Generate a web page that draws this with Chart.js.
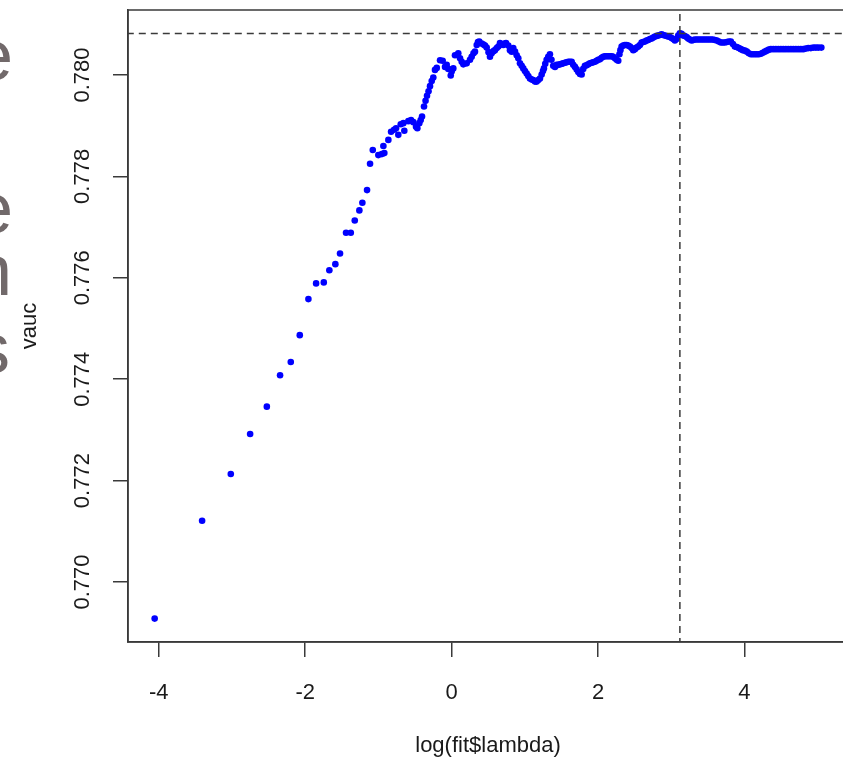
<!DOCTYPE html>
<html>
<head>
<meta charset="utf-8">
<script src="https://cdn.jsdelivr.net/npm/chart.js@4.4.0/dist/chart.umd.min.js"></script>
<style>
  html, body { margin: 0; padding: 0; background: #fff; overflow: hidden; width: 843px; height: 757px; }
  #wrap { position: absolute; left: 0; top: 0; width: 870px; height: 757px; }
  .side { position: absolute; font-family: "Liberation Sans", Arial, sans-serif; font-size: 72px; line-height: 72px; color: #71696a; }
</style>
</head>
<body>
<div id="wrap"><canvas id="aucPlot" width="870" height="757"></canvas></div>
<div class="side" style="left:-27px; top:19px">e</div>
<div class="side" style="left:-27px; top:172px">e</div>
<div class="side" style="left:-28px; top:234px">n</div>
<div class="side" style="left:-26px; top:312px">s</div>
<script>
// log(lambda) and validation AUC
const logLambda = [
  -4.056, -3.408, -3.016, -2.752, -2.524, -2.343, -2.197, -2.074, -1.956, -1.851,
  -1.746, -1.670, -1.588, -1.524, -1.442, -1.377, -1.323, -1.260, -1.219, -1.155,
  -1.114, -1.077, -1.001, -0.954, -0.932, -0.919, -0.864, -0.827, -0.786, -0.759,
  -0.728, -0.695, -0.659, -0.646, -0.591, -0.554, -0.523, -0.486, -0.468, -0.441,
  -0.422, -0.404, -0.377, -0.356, -0.336, -0.315, -0.295, -0.272, -0.250, -0.227,
  -0.203, -0.158, -0.122, -0.090, -0.067, -0.045, -0.012, 0.001, 0.023, 0.046,
  0.091, 0.115, 0.138, 0.160, 0.206, 0.251, 0.274, 0.299, 0.319, 0.343,
  0.360, 0.378, 0.411, 0.435, 0.456, 0.479, 0.504, 0.524, 0.547, 0.572,
  0.592, 0.616, 0.638, 0.661, 0.684, 0.706, 0.725, 0.743, 0.774, 0.797,
  0.820, 0.842, 0.866, 0.889, 0.911, 0.934, 0.957, 0.979, 1.002, 1.025,
  1.047, 1.070, 1.094, 1.115, 1.139, 1.162, 1.184, 1.207, 1.230, 1.248,
  1.261, 1.279, 1.298, 1.320, 1.343, 1.364, 1.388, 1.412, 1.435, 1.457,
  1.480, 1.503, 1.525, 1.548, 1.571, 1.593, 1.616, 1.640, 1.661, 1.685,
  1.708, 1.730, 1.753, 1.776, 1.798, 1.821, 1.844, 1.866, 1.889, 1.913,
  1.934, 1.958, 1.981, 2.003, 2.026, 2.049, 2.071, 2.094, 2.117, 2.139,
  2.162, 2.186, 2.207, 2.231, 2.254, 2.276, 2.292, 2.306, 2.322, 2.344,
  2.367, 2.390, 2.412, 2.436, 2.459, 2.481, 2.504, 2.527, 2.549, 2.572,
  2.595, 2.617, 2.640, 2.663, 2.685, 2.709, 2.732, 2.754, 2.777, 2.800,
  2.822, 2.845, 2.868, 2.890, 2.913, 2.937, 2.958, 2.982, 3.005, 3.027,
  3.050, 3.073, 3.095, 3.118, 3.141, 3.163, 3.186, 3.210, 3.231, 3.255,
  3.278, 3.300, 3.323, 3.350, 3.377, 3.405, 3.432, 3.459, 3.487, 3.514,
  3.541, 3.568, 3.596, 3.623, 3.650, 3.678, 3.705, 3.732, 3.760, 3.787,
  3.814, 3.842, 3.869, 3.896, 3.924, 3.951, 3.978, 4.006, 4.033, 4.060,
  4.088, 4.115, 4.142, 4.169, 4.197, 4.224, 4.251, 4.279, 4.306, 4.333,
  4.361, 4.395, 4.429, 4.463, 4.497, 4.531, 4.565, 4.599, 4.634, 4.668,
  4.702, 4.736, 4.770, 4.804, 4.838, 4.872, 4.906, 4.941, 4.975, 5.009,
  5.050
];
const vauc = [
  0.76928, 0.77121, 0.77213, 0.77292, 0.77346, 0.77408, 0.77434, 0.77487, 0.77558, 0.77589,
  0.77591, 0.77615, 0.77627, 0.77648, 0.77689, 0.77689, 0.77713, 0.77733, 0.77748, 0.77773,
  0.77825, 0.77852, 0.77842, 0.77844, 0.77860, 0.77846, 0.77872, 0.77888, 0.77892, 0.77895,
  0.77882, 0.77903, 0.77905, 0.77890, 0.77909, 0.77911, 0.77907, 0.77898, 0.77895, 0.77905,
  0.77911, 0.77918, 0.77938, 0.77949, 0.77959, 0.77968, 0.77978, 0.77988, 0.77995, 0.78010,
  0.78014, 0.78029, 0.78028, 0.78016, 0.78020, 0.78012, 0.77999, 0.78007, 0.78013, 0.78039,
  0.78043, 0.78033, 0.78026, 0.78021, 0.78023, 0.78030, 0.78036, 0.78043, 0.78046, 0.78059,
  0.78065, 0.78066, 0.78062, 0.78060, 0.78058, 0.78054, 0.78045, 0.78036, 0.78043, 0.78047,
  0.78049, 0.78053, 0.78056, 0.78063, 0.78060, 0.78059, 0.78062, 0.78063, 0.78058, 0.78049,
  0.78046, 0.78053, 0.78046, 0.78039, 0.78033, 0.78023, 0.78018, 0.78013, 0.78008, 0.78003,
  0.77998, 0.77993, 0.77991, 0.77990, 0.77987, 0.77987, 0.77990, 0.77993, 0.78001, 0.78008,
  0.78013, 0.78022, 0.78030, 0.78036, 0.78041, 0.78030, 0.78018, 0.78016, 0.78020, 0.78020,
  0.78021, 0.78022, 0.78023, 0.78024, 0.78025, 0.78026, 0.78026, 0.78026, 0.78020, 0.78016,
  0.78011, 0.78006, 0.78002, 0.78001, 0.78012, 0.78018, 0.78019, 0.78021, 0.78023, 0.78024,
  0.78025, 0.78026, 0.78028, 0.78030, 0.78031, 0.78034, 0.78036, 0.78037, 0.78037, 0.78037,
  0.78037, 0.78037, 0.78036, 0.78033, 0.78030, 0.78028, 0.78041, 0.78049, 0.78056, 0.78058,
  0.78059, 0.78059, 0.78058, 0.78056, 0.78053, 0.78049, 0.78051, 0.78054, 0.78056, 0.78059,
  0.78064, 0.78065, 0.78066, 0.78068, 0.78069, 0.78071, 0.78072, 0.78074, 0.78076, 0.78077,
  0.78078, 0.78079, 0.78080, 0.78079, 0.78078, 0.78077, 0.78076, 0.78075, 0.78073, 0.78071,
  0.78068, 0.78071, 0.78078, 0.78082, 0.78081, 0.78078, 0.78077, 0.78075, 0.78072, 0.78070,
  0.78068, 0.78069, 0.78070, 0.78070, 0.78070, 0.78070, 0.78070, 0.78070, 0.78070, 0.78070,
  0.78070, 0.78070, 0.78069, 0.78068, 0.78066, 0.78064, 0.78064, 0.78064, 0.78065, 0.78066,
  0.78066, 0.78061, 0.78056, 0.78055, 0.78053, 0.78051, 0.78049, 0.78048, 0.78046, 0.78043,
  0.78041, 0.78041, 0.78041, 0.78041, 0.78041, 0.78042, 0.78044, 0.78046, 0.78048, 0.78050,
  0.78051, 0.78051, 0.78051, 0.78051, 0.78051, 0.78051, 0.78051, 0.78051, 0.78051, 0.78051,
  0.78051, 0.78051, 0.78051, 0.78051, 0.78052, 0.78053, 0.78053, 0.78054, 0.78054, 0.78054,
  0.78054
];
const xTicks = [-4, -2, 0, 2, 4];
const yTicks = [0.770, 0.772, 0.774, 0.776, 0.778, 0.780];
const yTickLabels = ['0.770', '0.772', '0.774', '0.776', '0.778', '0.780'];

const FONT = '"Liberation Sans", Arial, sans-serif';
const AXIS = '#3a3a3a';
const TEXT = '#1a1a1a';

// best lambda, like abline(h = max(vauc), v = log(lambda[which.max(vauc)]))
const best = vauc.indexOf(Math.max(...vauc));
const bestX = logLambda[best];
const bestY = vauc[best];

// R pads the data range by 4% on each side
function rLim(v) {
  const lo = Math.min(...v), hi = Math.max(...v), d = (hi - lo) * 0.04;
  return [lo - d, hi + d];
}
const [xMin, xMax] = rLim(logLambda);
const [yMin, yMax] = rLim(vauc);

const rFrame = {
  id: 'rFrame',
  afterDraw(chart) {
    const { ctx, chartArea: a, scales } = chart;
    ctx.save();
    ctx.strokeStyle = AXIS;
    ctx.lineWidth = 1.5;
    ctx.strokeRect(a.left, a.top, a.right - a.left, a.bottom - a.top);
    // y labels run along the axis in base R
    ctx.fillStyle = TEXT;
    ctx.font = '22px ' + FONT;
    ctx.textAlign = 'center';
    ctx.textBaseline = 'middle';
    yTicks.forEach((v, i) => {
      ctx.save();
      ctx.translate(a.left - 45, scales.y.getPixelForValue(v));
      ctx.rotate(-Math.PI / 2);
      ctx.fillText(yTickLabels[i], 0, 0);
      ctx.restore();
    });
    ctx.restore();
  }
};

const dashed = { showLine: true, borderColor: AXIS, borderWidth: 1.5, borderDash: [7, 5], pointRadius: 0, fill: false };

new Chart(document.getElementById('aucPlot'), {
  type: 'scatter',
  data: {
    datasets: [
      Object.assign({ data: [{ x: xMin - 1, y: bestY }, { x: xMax + 1, y: bestY }] }, dashed),
      Object.assign({ data: [{ x: bestX, y: yMin - 0.01 }, { x: bestX, y: yMax + 0.01 }] }, dashed),
      {
        data: logLambda.map((x, i) => ({ x: x, y: vauc[i] })),
        pointRadius: 3.3,
        pointBackgroundColor: '#0000ff',
        pointBorderWidth: 0
      }
    ]
  },
  options: {
    responsive: false,
    devicePixelRatio: 1,
    animation: false,
    layout: { padding: { left: 0, top: 10, right: 22, bottom: 0 } },
    plugins: { legend: { display: false }, tooltip: { enabled: false } },
    scales: {
      x: {
        type: 'linear',
        min: xMin,
        max: xMax,
        afterBuildTicks: s => { s.ticks = xTicks.map(v => ({ value: v })); },
        afterFit: s => { s.height = 115; },
        grid: { display: true, drawOnChartArea: false, drawTicks: true, tickLength: 15, color: AXIS, lineWidth: 1.5 },
        border: { display: true, color: AXIS, width: 1.5 },
        ticks: { font: { family: FONT, size: 22 }, color: TEXT, padding: 23, maxRotation: 0, autoSkip: false, callback: v => String(v) },
        title: { display: true, text: 'log(fit$lambda)', font: { family: FONT, size: 22, lineHeight: 1.0 }, color: TEXT, padding: 0 }
      },
      y: {
        type: 'linear',
        min: yMin,
        max: yMax,
        afterBuildTicks: s => { s.ticks = yTicks.map(v => ({ value: v })); },
        afterFit: s => { s.width = 128; },
        grid: { display: true, drawOnChartArea: false, drawTicks: true, tickLength: 15, color: AXIS, lineWidth: 1.5 },
        border: { display: true, color: AXIS, width: 1.5 },
        ticks: { display: false },
        title: { display: true, text: 'vauc', font: { family: FONT, size: 22 }, color: TEXT, padding: { top: 17, bottom: 0 } }
      }
    }
  },
  plugins: [rFrame]
});
</script>
</body>
</html>
